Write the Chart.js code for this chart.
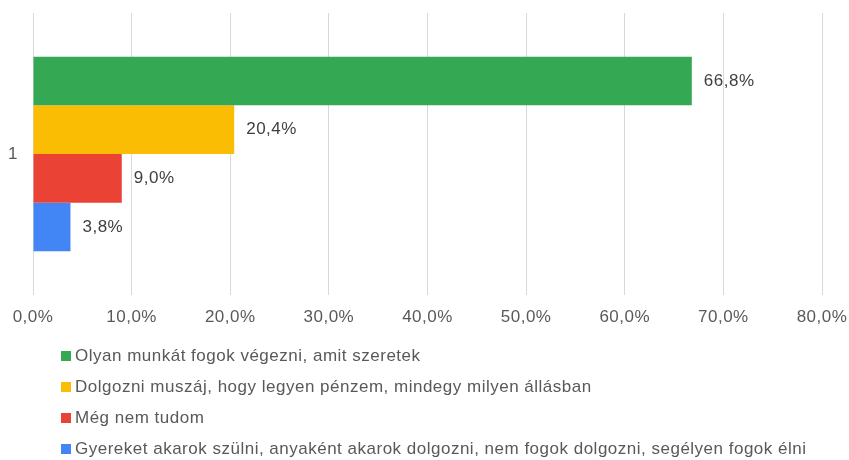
<!DOCTYPE html>
<html>
<head>
<meta charset="utf-8">
<script src="https://cdn.jsdelivr.net/npm/chart.js@4/dist/chart.umd.min.js"></script>
<style>
  html, body { margin: 0; padding: 0; background: #fff; }
  #wrap { width: 849px; height: 460px; }
</style>
</head>
<body>
<div id="wrap"><canvas id="chart" width="849" height="460"></canvas></div>
<script>
// ---------- Données ----------
const categories = ["1"];
const seriesLabels = [
  "Olyan munkát fogok végezni, amit szeretek",
  "Dolgozni muszáj, hogy legyen pénzem, mindegy milyen állásban",
  "Még nem tudom",
  "Gyereket akarok szülni, anyaként akarok dolgozni, nem fogok dolgozni, segélyen fogok élni"
];
const seriesValues = [66.8, 20.4, 9.0, 3.8];
const seriesColors = ["#34a853", "#fbbc04", "#ea4335", "#4285f4"];
const xTicks = [0, 10, 20, 30, 40, 50, 60, 70, 80];

const FONT = "Arial, 'Liberation Sans', sans-serif";
const SPACING = "0.5px"; // texte un peu plus espacé, comme l'original
const fmt = v => v.toFixed(1).replace(".", ",") + "%";

// espacement des lettres pour tout le canvas
const spacing = {
  id: "spacing",
  beforeDraw(chart) { chart.ctx.letterSpacing = SPACING; }
};

// étiquettes de valeur au bout des barres
const valueLabels = {
  id: "valueLabels",
  afterDatasetsDraw(chart) {
    const ctx = chart.ctx;
    ctx.save();
    ctx.letterSpacing = SPACING;
    ctx.font = "17px " + FONT;
    ctx.fillStyle = "#404040";
    ctx.textAlign = "left";
    ctx.textBaseline = "middle";
    chart.data.datasets.forEach((ds, i) => {
      chart.getDatasetMeta(i).data.forEach((el, j) => {
        ctx.fillText(fmt(ds.data[j]), el.x + 12, el.y);
      });
    });
    ctx.restore();
  }
};

// légende verticale en bas
const stackedLegend = {
  id: "stackedLegend",
  afterDraw(chart) {
    const ctx = chart.ctx;
    const x0 = 61;
    let y = chart.chartArea.bottom + 61;
    ctx.save();
    ctx.letterSpacing = SPACING;
    ctx.font = "17px " + FONT;
    ctx.textAlign = "left";
    ctx.textBaseline = "middle";
    chart.data.datasets.forEach(ds => {
      ctx.fillStyle = ds.backgroundColor;
      ctx.fillRect(x0, y - 5, 10, 10);
      ctx.fillStyle = "#595959";
      ctx.fillText(ds.label, x0 + 14, y);
      y += 31;
    });
    ctx.restore();
  }
};

function noPad(axis) {
  axis.paddingTop = 0; axis.paddingBottom = 0;
  axis.paddingLeft = 0; axis.paddingRight = 0;
}

new Chart(document.getElementById("chart"), {
  type: "bar",
  data: {
    labels: categories,
    datasets: seriesLabels.map((label, i) => ({
      label,
      data: [seriesValues[i]],
      backgroundColor: seriesColors[i],
      borderWidth: 0
    }))
  },
  options: {
    indexAxis: "y",
    responsive: false,
    animation: false,
    layout: { padding: { top: 13, right: 27, bottom: 125, left: 0 } },
    datasets: { bar: { categoryPercentage: 0.69, barPercentage: 1 } },
    plugins: {
      legend: { display: false },
      tooltip: { enabled: false }
    },
    scales: {
      x: {
        min: 0, max: 80,
        afterBuildTicks: axis => { axis.ticks = xTicks.map(v => ({ value: v })); },
        afterFit: axis => { axis.height = 40; noPad(axis); },
        border: { display: false },
        grid: { color: "#d9d9d9", lineWidth: 1, drawTicks: false },
        ticks: { color: "#595959", font: { family: FONT, size: 17 }, padding: 12, callback: v => fmt(v) }
      },
      y: {
        afterFit: axis => { axis.width = 33; noPad(axis); },
        border: { display: false },
        grid: { display: false, drawTicks: false },
        ticks: { color: "#595959", font: { family: FONT, size: 17 }, padding: 15 }
      }
    }
  },
  plugins: [spacing, valueLabels, stackedLegend]
});
</script>
</body>
</html>
